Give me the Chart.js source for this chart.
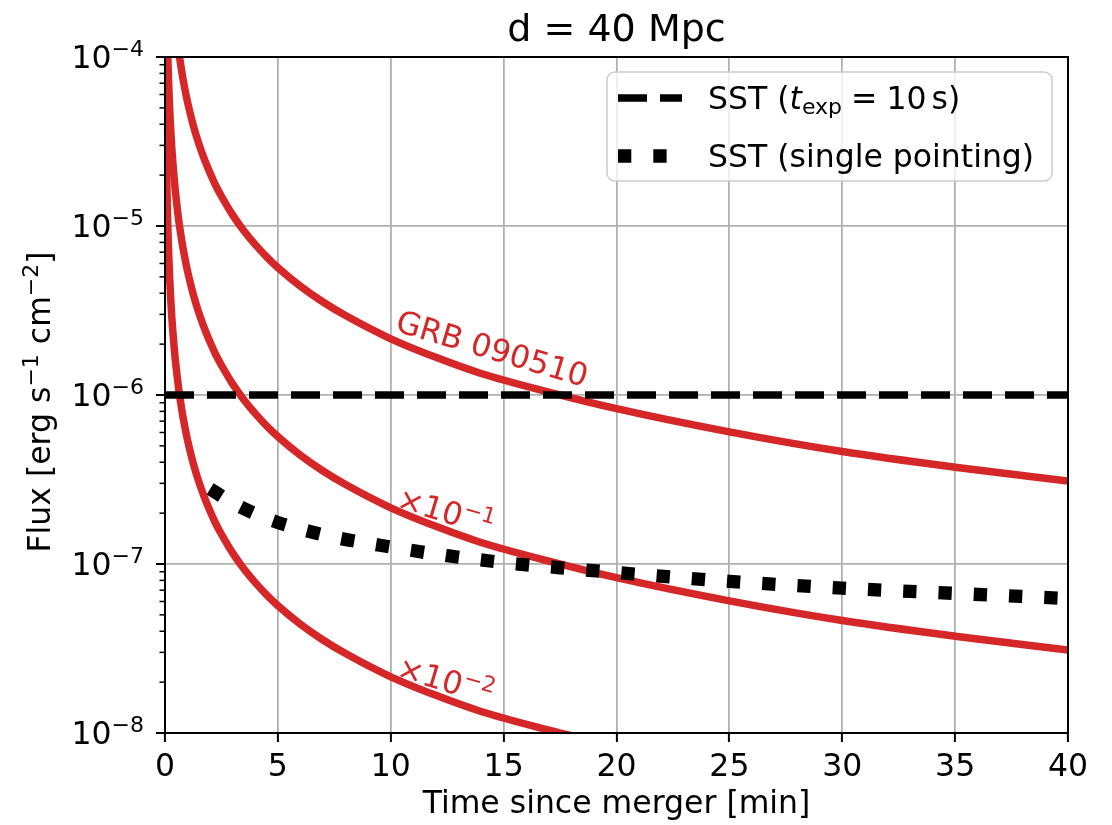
<!DOCTYPE html>
<html>
<head>
<meta charset="utf-8">
<title>d = 40 Mpc</title>
<script src="https://cdn.jsdelivr.net/npm/chart.js@4.4.1/dist/chart.umd.min.js"></script>
<style>
  html, body { margin: 0; padding: 0; background: #fff; }
  #wrap { width: 1112px; height: 825px; position: relative; }
</style>
</head>
<body>
<div id="wrap"><canvas id="chart"></canvas></div>
<script>
/* ---- data ---- */
const TITLE   = 'd = 40 Mpc';
const X_LABEL = 'Time since merger [min]';
const X_TICKS = [0, 5, 10, 15, 20, 25, 30, 35, 40];
const Y_DECADES = [1e-8, 1e-7, 1e-6, 1e-5, 1e-4];

// GRB 090510 light curve
const GRB_T = [0.55, 0.6, 0.65, 0.7, 0.75, 0.8, 0.9, 1, 1.1, 1.25, 1.5, 1.75, 2, 2.25, 2.5, 3, 3.5, 4, 4.5, 5,
               6, 7, 8, 10, 12, 14, 17, 20, 25, 30, 35, 40];
const GRB_F = [1.25e-4, 1.1e-4, 9.87e-5, 8.9e-5, 8.08e-5, 7.38e-5, 6.26e-5, 5.4e-5, 4.73e-5, 3.95e-5, 3.06e-5,
               2.47e-5, 2.05e-5, 1.73e-5, 1.5e-5, 1.16e-5, 9.35e-6, 7.76e-6, 6.57e-6, 5.67e-6,
               4.4e-6, 3.55e-6, 2.95e-6, 2.15e-6, 1.67e-6, 1.34e-6, 1.04e-6, 8.3e-7, 6.05e-7, 4.63e-7, 3.74e-7, 3.1e-7];

// x 10^-1
const GRB1_T = [0.1, 0.12, 0.15, 0.2, 0.25, 0.3, 0.35, 0.4, 0.45, 0.5, 0.55, 0.6, 0.65, 0.7, 0.75, 0.8, 0.9, 1, 1.1,
                1.25, 1.5, 1.75, 2, 2.25, 2.5, 3, 3.5, 4, 4.5, 5, 6, 7, 8, 10, 12, 14, 17, 20, 25, 30, 35, 40];
const GRB1_F = [1.357e-4, 1.05e-4, 7.69e-5, 5.14e-5, 3.76e-5, 2.91e-5, 2.35e-5, 1.95e-5, 1.65e-5, 1.43e-5,
                1.25e-5, 1.1e-5, 9.87e-6, 8.9e-6, 8.08e-6, 7.38e-6, 6.26e-6, 5.4e-6, 4.73e-6,
                3.95e-6, 3.06e-6, 2.47e-6, 2.05e-6, 1.73e-6, 1.5e-6, 1.16e-6, 9.35e-7, 7.76e-7, 6.57e-7, 5.67e-7,
                4.4e-7, 3.55e-7, 2.95e-7, 2.15e-7, 1.67e-7, 1.34e-7, 1.04e-7, 8.3e-8, 6.05e-8, 4.63e-8, 3.74e-8, 3.1e-8];

// x 10^-2
const GRB2_T = [0.02, 0.025, 0.03, 0.035, 0.04, 0.05, 0.06, 0.07, 0.08, 0.09, 0.1, 0.12, 0.15, 0.2, 0.25, 0.3, 0.35,
                0.4, 0.45, 0.5, 0.55, 0.6, 0.65, 0.7, 0.75, 0.8, 0.9, 1, 1.1, 1.25, 1.5, 1.75, 2, 2.25, 2.5, 3, 3.5,
                4, 4.5, 5, 6, 7, 8, 10, 12, 14, 17, 20];
const GRB2_F = [1.29e-4, 9.45e-5, 7.32e-5, 5.9e-5, 4.89e-5, 3.58e-5, 2.77e-5, 2.24e-5, 1.85e-5, 1.57e-5,
                1.357e-5, 1.05e-5, 7.69e-6, 5.14e-6, 3.76e-6, 2.91e-6, 2.35e-6,
                1.95e-6, 1.65e-6, 1.43e-6, 1.25e-6, 1.1e-6, 9.87e-7, 8.9e-7, 8.08e-7, 7.38e-7, 6.26e-7, 5.4e-7, 4.73e-7,
                3.95e-7, 3.06e-7, 2.47e-7, 2.05e-7, 1.73e-7, 1.5e-7, 1.16e-7, 9.35e-8,
                7.76e-8, 6.57e-8, 5.67e-8, 4.4e-8, 3.55e-8, 2.95e-8, 2.15e-8, 1.67e-8, 1.34e-8, 1.04e-8, 8.3e-9];

// SST single pointing
const SP_T = [2, 3, 4, 5, 6, 7.5, 10, 12.5, 15, 17.5, 20, 25, 30, 35, 40];
const SP_F = [2.78e-7, 2.3e-7, 1.98e-7, 1.76e-7, 1.61e-7, 1.44e-7, 1.26e-7, 1.12e-7, 1.02e-7, 9.5e-8, 8.9e-8,
              7.9e-8, 7.2e-8, 6.7e-8, 6.25e-8];

// SST t_exp = 10 s
const EXP_T = [0, 40];
const EXP_F = [1e-6, 1e-6];

// curve labels: text runs, anchored at (t, flux)
const CURVE_LABELS = [
  { runs: [{ t: 'GRB 090510' }],                         t: 10.15, f: 2.4e-6 },
  { runs: [{ t: '×10' }, { t: '−1', size: 22, dy: -12 }], t: 10.2,  f: 2.15e-7 },
  { runs: [{ t: '×10' }, { t: '−2', size: 22, dy: -12 }], t: 10.2,  f: 2.15e-8 },
];

/* ---- style ---- */
const FS   = 31.5;
const FAM  = '"DejaVu Sans"';
const RED  = '#d62728';
const GRID = '#b0b0b0';

Chart.defaults.font.family = 'DejaVu Sans';
Chart.defaults.color = '#000';

const pts = (ts, fs) => ts.map((t, i) => ({ x: t, y: fs[i] }));

function fontOf(r) {
  return `${r.italic ? 'italic ' : ''}${r.size || FS}px ${FAM}`;
}
function runsWidth(ctx, runs) {
  let w = 0;
  runs.forEach(r => {
    ctx.font = fontOf(r);
    w += (r.pre || 0) + ctx.measureText(r.t).width + (r.post || 0);
  });
  return w;
}
function drawRuns(ctx, x, y, runs) {
  let cx = x;
  runs.forEach(r => {
    cx += r.pre || 0;
    ctx.font = fontOf(r);
    ctx.fillText(r.t, cx, y + (r.dy || 0));
    cx += ctx.measureText(r.t).width + (r.post || 0);
  });
}

/* ---- decorations matplotlib draws that Chart.js does not ---- */
const decor = {
  id: 'decor',
  afterDatasetsDraw(chart) {
    const { ctx, chartArea: a, scales: { x, y } } = chart;
    ctx.save();
    ctx.textBaseline = 'alphabetic';
    ctx.textAlign = 'left';

    // curve labels
    ctx.fillStyle = RED;
    CURVE_LABELS.forEach(l => {
      ctx.save();
      ctx.translate(x.getPixelForValue(l.t), y.getPixelForValue(l.f));
      ctx.rotate(16.5 * Math.PI / 180);
      drawRuns(ctx, 0, 0, l.runs);
      ctx.restore();
    });

    // frame
    ctx.strokeStyle = '#000';
    ctx.lineWidth = 2;
    ctx.strokeRect(a.left, a.top, a.right - a.left, a.bottom - a.top);

    // y ticks, major + minor
    ctx.fillStyle = '#000';
    Y_DECADES.forEach((v, i) => {
      const py = y.getPixelForValue(v);
      ctx.lineWidth = 2;
      ctx.beginPath(); ctx.moveTo(a.left - 9, py); ctx.lineTo(a.left, py); ctx.stroke();
      if (i < Y_DECADES.length - 1) {
        for (let k = 2; k <= 9; k++) {
          const pm = y.getPixelForValue(v * k);
          ctx.lineWidth = 1.5;
          ctx.beginPath(); ctx.moveTo(a.left - 5.5, pm); ctx.lineTo(a.left, pm); ctx.stroke();
        }
      }
      const e = Math.round(Math.log10(v));
      const runs = [{ t: '10' }, { t: '−' + (-e), size: 22, dy: -12 }];
      drawRuns(ctx, 144 - runsWidth(ctx, runs), py + 11, runs);
    });
    ctx.restore();
  },
  afterDraw(chart) {
    const { ctx, chartArea: a } = chart;
    ctx.save();
    ctx.fillStyle = '#000';
    ctx.textBaseline = 'alphabetic';

    // title and x label
    ctx.textAlign = 'center';
    ctx.font = `38px ${FAM}`;
    ctx.fillText(TITLE, (a.left + a.right) / 2, 41);
    ctx.font = `${FS}px ${FAM}`;
    ctx.fillText(X_LABEL, (a.left + a.right) / 2, 813);

    // y label
    ctx.textAlign = 'left';
    const yl = [{ t: 'Flux [erg s' }, { t: '−1', size: 22, dy: -12 }, { t: ' cm' },
                { t: '−2', size: 22, dy: -12 }, { t: ']' }];
    ctx.save();
    ctx.translate(50, 402);
    ctx.rotate(-Math.PI / 2);
    drawRuns(ctx, -runsWidth(ctx, yl) / 2, 0, yl);
    ctx.restore();

    // legend
    ctx.beginPath();
    ctx.roundRect(607, 72, 445, 109, 8);
    ctx.fillStyle = 'rgba(255,255,255,0.8)';
    ctx.fill();
    ctx.strokeStyle = '#cccccc';
    ctx.lineWidth = 1.5;
    ctx.stroke();

    ctx.strokeStyle = '#000';
    ctx.lineCap = 'butt';
    ctx.setLineDash([29, 13]);
    ctx.lineWidth = 7.5;
    ctx.beginPath(); ctx.moveTo(618, 98); ctx.lineTo(682, 98); ctx.stroke();
    ctx.setLineDash([13.3, 22]);
    ctx.lineWidth = 13.3;
    ctx.beginPath(); ctx.moveTo(618, 156); ctx.lineTo(682, 156); ctx.stroke();
    ctx.setLineDash([]);

    ctx.fillStyle = '#000';
    drawRuns(ctx, 708, 109, [
      { t: 'SST (' }, { t: 't', italic: true }, { t: 'exp', size: 22, dy: 5 },
      { t: '=', pre: 9, post: 9 }, { t: '10', post: 5 }, { t: 's)' },
    ]);
    drawRuns(ctx, 708, 167, [{ t: 'SST (single pointing)' }]);
    ctx.restore();
  },
};

const line = (data, color, width, dash) => ({
  data, borderColor: color, borderWidth: width, borderDash: dash,
  borderCapStyle: 'butt', pointRadius: 0, fill: false,
  cubicInterpolationMode: 'monotone', clip: 0,
});

new Chart(document.getElementById('chart'), {
  type: 'line',
  data: {
    datasets: [
      line(pts(EXP_T, EXP_F), '#000', 7.5, [29, 13]),
      line(pts(SP_T, SP_F), '#000', 13.3, [13.3, 22]),
      line(pts(GRB_T, GRB_F), RED, 7.5, []),
      line(pts(GRB1_T, GRB1_F), RED, 7.5, []),
      line(pts(GRB2_T, GRB2_F), RED, 7.5, []),
    ],
  },
  options: {
    responsive: true,
    maintainAspectRatio: false,
    animation: false,
    events: [],
    layout: { padding: { left: 165, right: 44, top: 57, bottom: 0 } },
    plugins: { legend: { display: false }, tooltip: { enabled: false } },
    scales: {
      x: {
        type: 'linear', min: 0, max: 40,
        afterBuildTicks: s => { s.ticks = X_TICKS.map(v => ({ value: v })); },
        afterFit: s => { s.height = 92; s.paddingLeft = 0; s.paddingRight = 0; },
        border: { display: false },
        grid: { color: GRID, lineWidth: 1.8, tickColor: '#000', tickLength: 9, tickWidth: 2 },
        ticks: { font: { size: FS }, color: '#000', padding: 7, maxRotation: 0 },
      },
      y: {
        type: 'logarithmic', min: 1e-8, max: 1e-4,
        afterBuildTicks: s => { s.ticks = Y_DECADES.map(v => ({ value: v })); },
        afterFit: s => { s.width = 0; },
        border: { display: false },
        grid: { color: GRID, lineWidth: 1.8, drawTicks: false },
        ticks: { display: false },
      },
    },
  },
  plugins: [decor],
});
</script>
</body>
</html>
